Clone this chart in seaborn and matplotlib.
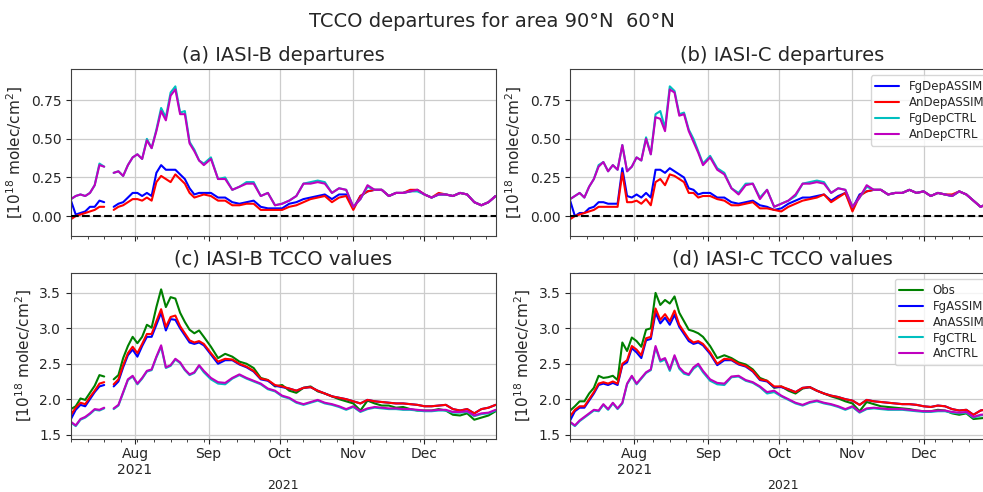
import numpy as np
import pandas as pd
import matplotlib
matplotlib.use("Agg")
import matplotlib.pyplot as plt
import matplotlib.dates as mdates
from matplotlib.ticker import MultipleLocator, FuncFormatter
import seaborn as sns

sns.set_style("ticks", {"axes.grid": True})
plt.rcParams["font.family"] = ["DejaVu Sans"]

########################################################################
#                                 Data                                 #
########################################################################
dates = list(pd.date_range("2021-07-05", "2021-08-30", freq="2D")) + \
        list(pd.date_range("2021-09-02", "2021-12-31", freq="3D"))
nan = np.nan

dep_names = ["FgDepASSIM", "AnDepASSIM", "FgDepCTRL", "AnDepCTRL"]
val_names = ["Obs", "FgASSIM", "AnASSIM", "FgCTRL", "AnCTRL"]
dep_colors = ["b", "r", "c", "m"]
val_colors = ["g", "b", "r", "c", "m"]

# (a) IASI-B departures
fg_dep_assim_b = [0.10, 0.01, 0.02, 0.03, 0.06, 0.06, 0.10, 0.09, nan, 0.06,
                  0.08, 0.09, 0.12, 0.15, 0.15, 0.13, 0.15, 0.13, 0.28, 0.33,
                  0.30, 0.30, 0.30, 0.27, 0.24, 0.18, 0.14, 0.15, 0.15,
                  0.15, 0.12, 0.12, 0.09, 0.08, 0.09, 0.10, 0.06, 0.05, 0.05,
                  0.05, 0.08, 0.09, 0.11, 0.12, 0.13, 0.14, 0.11, 0.14, 0.14,
                  0.05, 0.13, 0.16, 0.17, 0.17, 0.13, 0.15, 0.15, 0.16, 0.17,
                  0.14, 0.12, 0.14, 0.14, 0.13, 0.15, 0.14, 0.09, 0.07, 0.09, 0.13]
an_dep_assim_b = [-0.02, 0.00, 0.01, 0.02, 0.03, 0.04, 0.06, 0.06, nan, 0.04,
                  0.06, 0.07, 0.09, 0.11, 0.11, 0.10, 0.12, 0.10, 0.22, 0.26,
                  0.24, 0.22, 0.27, 0.24, 0.21, 0.15, 0.12, 0.13, 0.14,
                  0.13, 0.10, 0.10, 0.07, 0.07, 0.08, 0.08, 0.04, 0.04, 0.04,
                  0.04, 0.06, 0.07, 0.09, 0.11, 0.12, 0.13, 0.09, 0.12, 0.13,
                  0.04, 0.13, 0.16, 0.17, 0.17, 0.13, 0.15, 0.15, 0.17, 0.17,
                  0.14, 0.12, 0.15, 0.14, 0.13, 0.15, 0.14, 0.09, 0.07, 0.09, 0.13]
fg_dep_ctrl_b = [0.11, 0.13, 0.14, 0.13, 0.15, 0.20, 0.34, 0.32, nan, 0.28,
                 0.29, 0.26, 0.33, 0.38, 0.40, 0.37, 0.50, 0.44, 0.56, 0.70,
                 0.64, 0.80, 0.84, 0.67, 0.68, 0.48, 0.43, 0.36, 0.34,
                 0.38, 0.24, 0.25, 0.17, 0.19, 0.22, 0.22, 0.13, 0.15, 0.07,
                 0.08, 0.10, 0.13, 0.21, 0.22, 0.23, 0.22, 0.15, 0.18, 0.17,
                 0.06, 0.11, 0.19, 0.17, 0.17, 0.13, 0.15, 0.15, 0.16, 0.16,
                 0.14, 0.12, 0.14, 0.14, 0.13, 0.15, 0.14, 0.09, 0.07, 0.09, 0.13]
an_dep_ctrl_b = [0.11, 0.13, 0.14, 0.13, 0.15, 0.20, 0.33, 0.32, nan, 0.28,
                 0.29, 0.26, 0.33, 0.38, 0.40, 0.37, 0.49, 0.44, 0.55, 0.68,
                 0.62, 0.78, 0.82, 0.66, 0.66, 0.47, 0.42, 0.36, 0.33,
                 0.37, 0.24, 0.24, 0.17, 0.19, 0.21, 0.21, 0.13, 0.15, 0.07,
                 0.08, 0.10, 0.13, 0.21, 0.21, 0.22, 0.21, 0.15, 0.18, 0.17,
                 0.06, 0.11, 0.20, 0.17, 0.17, 0.13, 0.15, 0.15, 0.16, 0.17,
                 0.14, 0.12, 0.14, 0.14, 0.13, 0.15, 0.14, 0.09, 0.07, 0.09, 0.13]

# (b) IASI-C departures
fg_dep_assim_c = [0.10, 0.00, 0.02, 0.02, 0.05, 0.06, 0.09, 0.09, 0.08, 0.08,
                  0.08, 0.31, 0.13, 0.12, 0.14, 0.12, 0.15, 0.12, 0.30, 0.30,
                  0.28, 0.31, 0.29, 0.27, 0.25, 0.18, 0.17, 0.14, 0.15,
                  0.15, 0.12, 0.12, 0.09, 0.08, 0.09, 0.10, 0.07, 0.06, 0.04,
                  0.05, 0.08, 0.10, 0.12, 0.12, 0.13, 0.14, 0.10, 0.13, 0.15,
                  0.05, 0.14, 0.16, 0.17, 0.17, 0.14, 0.15, 0.15, 0.17, 0.15,
                  0.16, 0.13, 0.15, 0.14, 0.13, 0.16, 0.14, 0.10, 0.06, 0.08, 0.09]
an_dep_assim_c = [-0.02, 0.00, 0.01, 0.02, 0.03, 0.04, 0.06, 0.06, 0.06, 0.06,
                  0.06, 0.28, 0.09, 0.09, 0.10, 0.08, 0.11, 0.07, 0.22, 0.24,
                  0.20, 0.27, 0.26, 0.24, 0.22, 0.15, 0.15, 0.12, 0.13,
                  0.13, 0.11, 0.10, 0.07, 0.07, 0.08, 0.09, 0.05, 0.05, 0.04,
                  0.03, 0.06, 0.08, 0.10, 0.11, 0.12, 0.14, 0.09, 0.12, 0.15,
                  0.03, 0.13, 0.16, 0.17, 0.17, 0.14, 0.15, 0.15, 0.17, 0.15,
                  0.16, 0.13, 0.15, 0.14, 0.14, 0.16, 0.14, 0.10, 0.06, 0.08, 0.09]
fg_dep_ctrl_c = [0.11, 0.13, 0.15, 0.12, 0.19, 0.24, 0.33, 0.35, 0.29, 0.33,
                 0.30, 0.46, 0.29, 0.32, 0.38, 0.36, 0.51, 0.40, 0.66, 0.68,
                 0.57, 0.84, 0.81, 0.66, 0.67, 0.56, 0.50, 0.42, 0.34,
                 0.39, 0.31, 0.28, 0.18, 0.15, 0.21, 0.21, 0.12, 0.17, 0.06,
                 0.08, 0.10, 0.13, 0.21, 0.22, 0.23, 0.22, 0.15, 0.18, 0.17,
                 0.06, 0.12, 0.19, 0.17, 0.17, 0.14, 0.15, 0.15, 0.17, 0.15,
                 0.16, 0.13, 0.15, 0.14, 0.13, 0.16, 0.14, 0.10, 0.06, 0.08, 0.09]
an_dep_ctrl_c = [0.11, 0.13, 0.15, 0.12, 0.19, 0.24, 0.32, 0.35, 0.29, 0.33,
                 0.30, 0.46, 0.29, 0.32, 0.38, 0.36, 0.50, 0.40, 0.64, 0.63,
                 0.55, 0.82, 0.80, 0.65, 0.66, 0.55, 0.48, 0.41, 0.33,
                 0.38, 0.30, 0.27, 0.18, 0.14, 0.20, 0.21, 0.11, 0.17, 0.06,
                 0.08, 0.10, 0.14, 0.21, 0.21, 0.22, 0.21, 0.15, 0.18, 0.17,
                 0.06, 0.12, 0.20, 0.17, 0.17, 0.14, 0.15, 0.15, 0.17, 0.15,
                 0.16, 0.13, 0.15, 0.14, 0.13, 0.16, 0.14, 0.10, 0.06, 0.08, 0.09]

# (c) IASI-B TCCO values
obs_b = [1.86, 1.90, 2.01, 1.99, 2.09, 2.19, 2.34, 2.32, nan, 2.28,
         2.34, 2.58, 2.75, 2.88, 2.79, 2.88, 3.05, 3.01, 3.30, 3.55,
         3.30, 3.44, 3.42, 3.22, 3.09, 2.98, 2.93, 2.97, 2.88,
         2.74, 2.58, 2.64, 2.60, 2.53, 2.50, 2.44, 2.30, 2.27, 2.18,
         2.20, 2.12, 2.09, 2.16, 2.18, 2.11, 2.08, 2.04, 2.00, 1.97,
         1.94, 1.84, 1.98, 1.94, 1.91, 1.91, 1.88, 1.89, 1.86, 1.84,
         1.84, 1.84, 1.86, 1.84, 1.78, 1.77, 1.80, 1.71, 1.74, 1.77, 1.83]
fg_assim_b = [1.72, 1.85, 1.92, 1.90, 2.00, 2.10, 2.18, 2.20, nan, 2.18,
              2.25, 2.45, 2.62, 2.70, 2.60, 2.75, 2.88, 2.88, 3.05, 3.22,
              2.97, 3.13, 3.12, 3.00, 2.90, 2.80, 2.78, 2.80, 2.76,
              2.63, 2.50, 2.55, 2.55, 2.49, 2.45, 2.39, 2.28, 2.26, 2.19,
              2.17, 2.15, 2.12, 2.16, 2.17, 2.12, 2.08, 2.04, 2.02, 2.00,
              1.97, 1.94, 1.99, 1.97, 1.96, 1.95, 1.94, 1.94, 1.93, 1.92,
              1.90, 1.90, 1.91, 1.92, 1.86, 1.84, 1.86, 1.80, 1.86, 1.88, 1.92]
an_assim_b = [1.78, 1.88, 1.95, 1.93, 2.03, 2.12, 2.22, 2.24, nan, 2.21,
              2.28, 2.48, 2.65, 2.74, 2.65, 2.78, 2.92, 2.92, 3.10, 3.27,
              3.02, 3.16, 3.18, 3.03, 2.93, 2.83, 2.80, 2.82, 2.78,
              2.65, 2.53, 2.57, 2.56, 2.50, 2.46, 2.40, 2.29, 2.27, 2.20,
              2.18, 2.15, 2.12, 2.16, 2.17, 2.12, 2.08, 2.04, 2.02, 2.00,
              1.97, 1.94, 1.99, 1.97, 1.96, 1.95, 1.94, 1.94, 1.93, 1.92,
              1.90, 1.90, 1.91, 1.92, 1.86, 1.84, 1.86, 1.80, 1.86, 1.88, 1.92]
fg_ctrl_b = [1.67, 1.62, 1.71, 1.74, 1.79, 1.85, 1.84, 1.87, nan, 1.86,
             1.91, 2.09, 2.27, 2.32, 2.21, 2.29, 2.39, 2.41, 2.59, 2.74,
             2.44, 2.47, 2.56, 2.51, 2.41, 2.34, 2.37, 2.47, 2.38,
             2.28, 2.22, 2.21, 2.29, 2.34, 2.29, 2.25, 2.21, 2.14, 2.11,
             2.04, 2.01, 1.95, 1.92, 1.95, 1.98, 1.94, 1.92, 1.89, 1.85,
             1.89, 1.82, 1.86, 1.88, 1.87, 1.86, 1.86, 1.85, 1.85, 1.84,
             1.83, 1.83, 1.84, 1.84, 1.81, 1.81, 1.82, 1.76, 1.79, 1.80, 1.84]
an_ctrl_b = [1.68, 1.63, 1.72, 1.75, 1.80, 1.86, 1.85, 1.88, nan, 1.87,
             1.92, 2.10, 2.28, 2.33, 2.22, 2.30, 2.40, 2.42, 2.60, 2.76,
             2.45, 2.48, 2.57, 2.52, 2.42, 2.35, 2.38, 2.48, 2.40,
             2.30, 2.24, 2.23, 2.30, 2.35, 2.30, 2.26, 2.22, 2.15, 2.12,
             2.05, 2.02, 1.96, 1.93, 1.96, 1.99, 1.95, 1.93, 1.90, 1.86,
             1.90, 1.83, 1.87, 1.89, 1.88, 1.87, 1.87, 1.86, 1.86, 1.85,
             1.84, 1.84, 1.85, 1.85, 1.82, 1.82, 1.83, 1.77, 1.80, 1.81, 1.85]

# (d) IASI-C TCCO values
obs_c = [1.84, 1.90, 1.97, 1.97, 2.08, 2.16, 2.33, 2.30, 2.31, 2.33,
         2.27, 2.80, 2.68, 2.87, 2.82, 2.74, 2.98, 3.00, 3.50, 3.33,
         3.40, 3.35, 3.45, 3.22, 3.10, 2.98, 2.96, 2.93, 2.88,
         2.75, 2.58, 2.62, 2.58, 2.52, 2.49, 2.42, 2.30, 2.26, 2.16,
         2.18, 2.12, 2.08, 2.15, 2.17, 2.12, 2.08, 2.04, 2.01, 1.97,
         1.94, 1.83, 1.96, 1.93, 1.90, 1.89, 1.88, 1.87, 1.86, 1.84,
         1.83, 1.83, 1.85, 1.84, 1.80, 1.78, 1.80, 1.72, 1.73, 1.74, 1.76]
fg_assim_c = [1.70, 1.83, 1.88, 1.88, 1.98, 2.08, 2.20, 2.22, 2.20, 2.23,
              2.20, 2.48, 2.52, 2.72, 2.66, 2.58, 2.83, 2.85, 3.22, 3.07,
              3.15, 3.05, 3.19, 3.02, 2.92, 2.82, 2.78, 2.80, 2.76,
              2.64, 2.48, 2.55, 2.55, 2.49, 2.46, 2.39, 2.27, 2.25, 2.17,
              2.17, 2.14, 2.10, 2.16, 2.17, 2.12, 2.08, 2.05, 2.03, 2.00,
              1.98, 1.92, 1.99, 1.97, 1.96, 1.95, 1.94, 1.93, 1.93, 1.92,
              1.90, 1.89, 1.91, 1.90, 1.86, 1.84, 1.85, 1.78, 1.84, 1.86, 1.87]
an_assim_c = [1.76, 1.85, 1.90, 1.90, 2.00, 2.10, 2.22, 2.24, 2.22, 2.25,
              2.22, 2.50, 2.55, 2.75, 2.70, 2.62, 2.86, 2.88, 3.28, 3.12,
              3.20, 3.10, 3.25, 3.05, 2.95, 2.85, 2.80, 2.82, 2.78,
              2.66, 2.50, 2.57, 2.56, 2.50, 2.47, 2.40, 2.28, 2.26, 2.18,
              2.18, 2.14, 2.10, 2.16, 2.17, 2.12, 2.08, 2.05, 2.03, 2.00,
              1.98, 1.92, 1.99, 1.97, 1.96, 1.95, 1.94, 1.93, 1.93, 1.92,
              1.90, 1.89, 1.91, 1.90, 1.86, 1.84, 1.85, 1.78, 1.84, 1.86, 1.87]
fg_ctrl_c = [1.67, 1.62, 1.69, 1.74, 1.79, 1.84, 1.83, 1.92, 1.85, 1.94,
             1.86, 1.94, 2.21, 2.32, 2.21, 2.29, 2.37, 2.41, 2.73, 2.53,
             2.56, 2.40, 2.60, 2.43, 2.36, 2.34, 2.43, 2.48, 2.38,
             2.26, 2.21, 2.20, 2.31, 2.32, 2.26, 2.23, 2.17, 2.08, 2.10,
             2.04, 1.99, 1.94, 1.91, 1.95, 1.97, 1.94, 1.92, 1.89, 1.85,
             1.89, 1.81, 1.86, 1.87, 1.86, 1.85, 1.85, 1.85, 1.84, 1.83,
             1.82, 1.82, 1.83, 1.83, 1.81, 1.80, 1.81, 1.74, 1.77, 1.78, 1.79]
an_ctrl_c = [1.68, 1.63, 1.70, 1.75, 1.80, 1.85, 1.84, 1.93, 1.86, 1.95,
             1.87, 1.95, 2.22, 2.33, 2.22, 2.30, 2.38, 2.42, 2.75, 2.55,
             2.58, 2.42, 2.62, 2.45, 2.38, 2.35, 2.45, 2.50, 2.40,
             2.28, 2.23, 2.22, 2.32, 2.33, 2.27, 2.24, 2.18, 2.10, 2.12,
             2.05, 2.00, 1.95, 1.92, 1.96, 1.98, 1.95, 1.93, 1.90, 1.86,
             1.90, 1.82, 1.87, 1.88, 1.87, 1.86, 1.86, 1.86, 1.85, 1.84,
             1.83, 1.83, 1.84, 1.84, 1.82, 1.81, 1.82, 1.75, 1.78, 1.79, 1.80]


########################################################################
#                                 Plot                                 #
########################################################################
def draw(ax, names, colors, series):
    frames = []
    for name, vals in zip(names, series):
        v = np.array(vals, dtype=float)
        # a new segment after every missing day, so gaps are kept
        frames.append(pd.DataFrame({"date": dates, "value": v, "series": name,
                                    "seg": np.cumsum(np.isnan(v))}))
    df = pd.concat(frames).dropna()
    sns.lineplot(data=df, x="date", y="value", hue="series", units="seg",
                 estimator=None, hue_order=names,
                 palette=dict(zip(names, colors)), lw=1.5, ax=ax)


def month_label(x, pos):
    d = mdates.num2date(x)
    return "Aug\n2021" if d.month == 8 else d.strftime("%b")


fig = plt.figure(figsize=(9.83, 4.92), dpi=100)
ax_c = fig.add_axes([0.0722, 0.108, 0.432, 0.337])
ax_d = fig.add_axes([0.580, 0.108, 0.432, 0.337])
ax_a = fig.add_axes([0.0722, 0.520, 0.432, 0.339], sharex=ax_c)
ax_b = fig.add_axes([0.580, 0.520, 0.432, 0.339], sharex=ax_d)

draw(ax_a, dep_names, dep_colors, [fg_dep_assim_b, an_dep_assim_b, fg_dep_ctrl_b, an_dep_ctrl_b])
draw(ax_b, dep_names, dep_colors, [fg_dep_assim_c, an_dep_assim_c, fg_dep_ctrl_c, an_dep_ctrl_c])
draw(ax_c, val_names, val_colors, [obs_b, fg_assim_b, an_assim_b, fg_ctrl_b, an_ctrl_b])
draw(ax_d, val_names, val_colors, [obs_c, fg_assim_c, an_assim_c, fg_ctrl_c, an_ctrl_c])

titles = {ax_a: "(a) IASI-B departures", ax_b: "(b) IASI-C departures",
          ax_c: "(c) IASI-B TCCO values", ax_d: "(d) IASI-C TCCO values"}
ylab = r"[10$^{18}$ molec/cm$^2$]"

for ax in [ax_a, ax_b, ax_c, ax_d]:
    ax.set_title(titles[ax], fontsize=14)
    ax.set_ylabel(ylab, fontsize=11)
    ax.set_xlabel("")
    ax.set_xlim(pd.Timestamp("2021-07-05"), pd.Timestamp("2021-12-31"))
    ax.xaxis.set_major_locator(mdates.MonthLocator())
    ax.xaxis.set_minor_locator(mdates.WeekdayLocator(byweekday=mdates.MO))
    ax.xaxis.set_major_formatter(FuncFormatter(month_label))
    ax.tick_params(labelsize=10, direction="out")
    ax.tick_params(axis="x", pad=2.5)
    ax.tick_params(which="minor", length=2.5)
    ax.grid(True, which="major", color="0.8", lw=0.9)
    for s in ax.spines.values():
        s.set_color("0.25")

for ax in [ax_a, ax_b]:
    ax.axhline(0, color="k", ls="--", lw=1.5, zorder=5)
    ax.set_ylim(-0.13, 0.95)
    ax.yaxis.set_major_locator(MultipleLocator(0.25))
    ax.tick_params(labelbottom=False)

for ax in [ax_c, ax_d]:
    ax.set_ylim(1.44, 3.78)
    ax.yaxis.set_major_locator(MultipleLocator(0.5))
    ax.set_xlabel("2021", fontsize=9, labelpad=1)

for ax in [ax_a, ax_c]:
    ax.get_legend().remove()
for ax in [ax_b, ax_d]:
    h, l = ax.get_legend_handles_labels()
    ax.legend(h, l, loc="upper right", fontsize=8.5, labelspacing=0.25)

fig.suptitle("TCCO departures for area 90°N  60°N", y=0.975, fontsize=14)

fig.savefig("out.png", dpi=100)
